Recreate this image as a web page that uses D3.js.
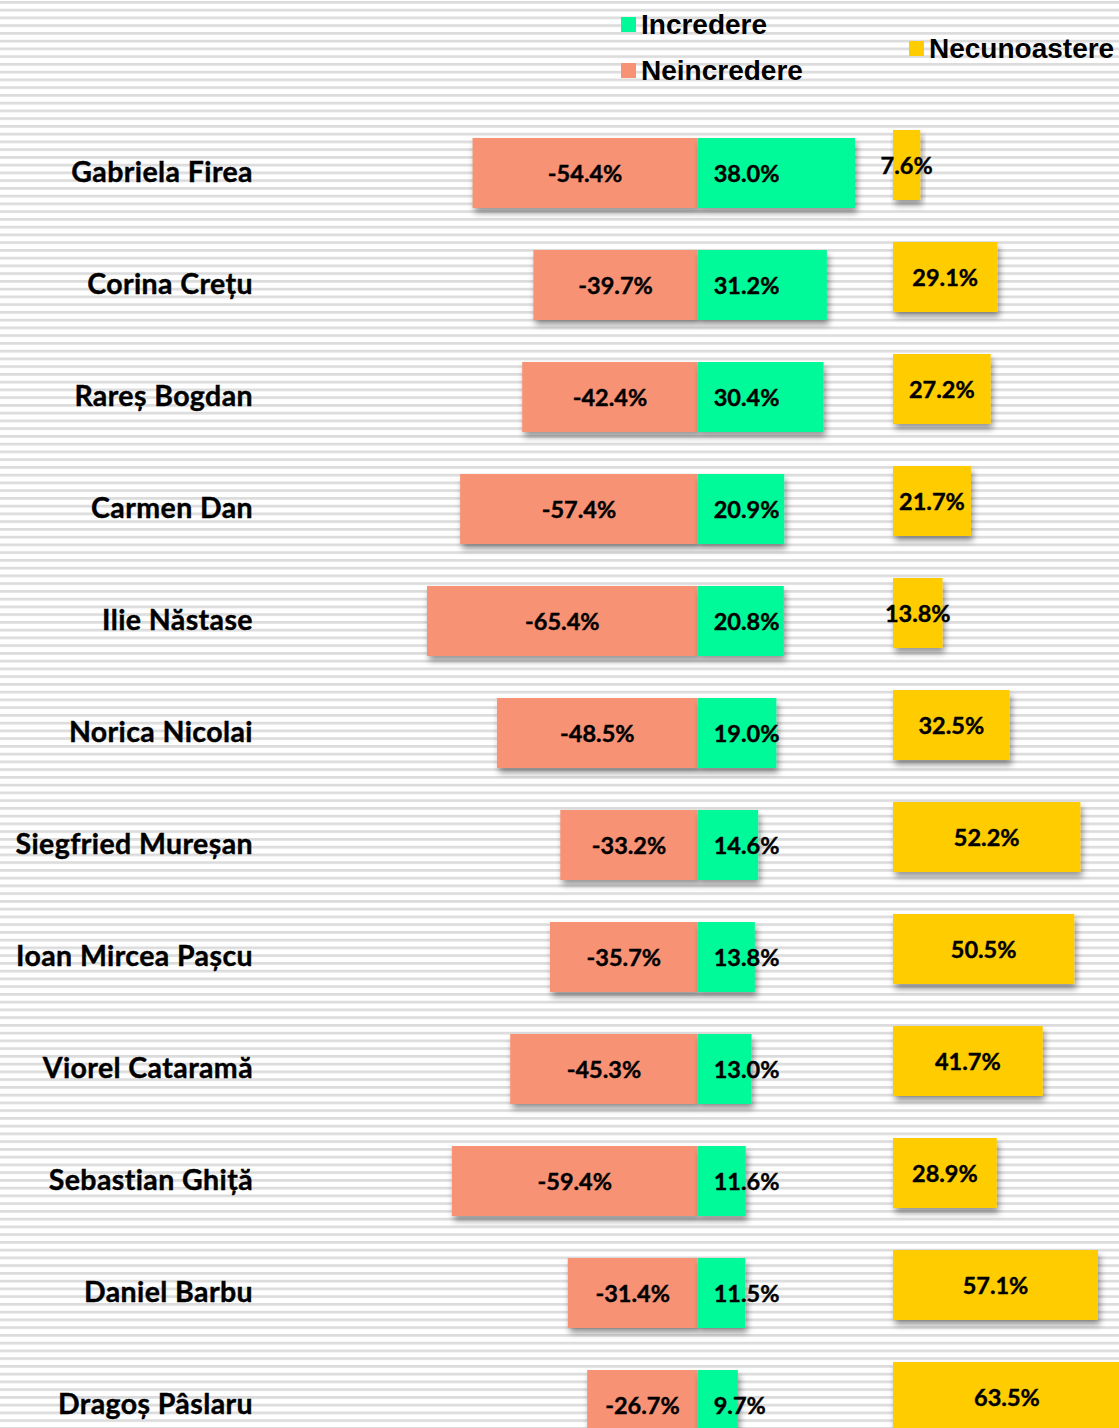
<!DOCTYPE html>
<html>
<head>
<meta charset="utf-8">
<script src="https://cdn.jsdelivr.net/npm/d3@7"></script>
<style>
  body { margin: 0; background: #fff; }
  svg { display: block; }
</style>
</head>
<body>
<div id="chart"></div>
<script>
// data
var names = ['Gabriela Firea', 'Corina Crețu', 'Rareș Bogdan', 'Carmen Dan', 'Ilie Năstase',
    'Norica Nicolai', 'Siegfried Mureșan', 'Ioan Mircea Pașcu', 'Viorel Cataramă',
    'Sebastian Ghiță', 'Daniel Barbu', 'Dragoș Pâslaru'];
var incredere = [38.0, 31.2, 30.4, 20.9, 20.8, 19.0, 14.6, 13.8, 13.0, 11.6, 11.5, 9.7];
var neincredere = [-54.4, -39.7, -42.4, -57.4, -65.4, -48.5, -33.2, -35.7, -45.3, -59.4, -31.4, -26.7];
var necunoastere = [7.6, 29.1, 27.2, 21.7, 13.8, 32.5, 52.2, 50.5, 41.7, 28.9, 57.1, 63.5];
var legendLabels = ['Incredere', 'Neincredere', 'Necunoastere'];

var colors = { inc: '#00fa9a', neinc: '#f79274', necun: '#ffcc00' };

var width = 1119, height = 1428;

var svg = d3.select('#chart').append('svg')
    .attr('width', width)
    .attr('height', height);

var defs = svg.append('defs');

// striped background
var pat = defs.append('pattern')
    .attr('id', 'stripes')
    .attr('patternUnits', 'userSpaceOnUse')
    .attr('width', 10)
    .attr('height', 7.75)
    .attr('y', 1);
pat.append('rect').attr('width', 10).attr('height', 7.75).attr('fill', '#fff');
pat.append('rect').attr('width', 10).attr('height', 2.7).attr('fill', '#dcdcdc');

var shadow = defs.append('filter')
    .attr('id', 'shadow')
    .attr('x', '-10%').attr('y', '-10%')
    .attr('width', '130%').attr('height', '140%');
shadow.append('feDropShadow')
    .attr('dx', 2).attr('dy', 5)
    .attr('stdDeviation', 3)
    .attr('flood-color', '#000')
    .attr('flood-opacity', 0.4);

svg.append('rect')
    .attr('width', width)
    .attr('height', height)
    .attr('fill', 'url(#stripes)');

var y = d3.scaleBand()
    .domain(names)
    .range([117, 117 + 112 * 12])
    .paddingInner(0.375)
    .paddingOuter(0.1875);

var x = d3.scaleLinear()
    .domain([-65.4, 38.0])
    .range([427, 855]);

var x2 = d3.scaleLinear()
    .domain([0, 57.1])
    .range([893, 1098]);

var rows = svg.selectAll('.row')
    .data(names)
    .enter()
    .append('g')
    .attr('class', 'row');

// neincredere
rows.append('rect')
    .attr('x', function(d, i) { return x(neincredere[i]); })
    .attr('y', function(d) { return y(d); })
    .attr('width', function(d, i) { return x(0) - x(neincredere[i]); })
    .attr('height', y.bandwidth())
    .attr('fill', colors.neinc)
    .attr('filter', 'url(#shadow)');

// incredere
rows.append('rect')
    .attr('x', x(0))
    .attr('y', function(d) { return y(d); })
    .attr('width', function(d, i) { return x(incredere[i]) - x(0); })
    .attr('height', y.bandwidth())
    .attr('fill', colors.inc)
    .attr('filter', 'url(#shadow)');

// necunoastere
rows.append('rect')
    .attr('x', x2(0))
    .attr('y', function(d) { return y(d) - 8; })
    .attr('width', function(d, i) { return x2(necunoastere[i]) - x2(0); })
    .attr('height', y.bandwidth())
    .attr('fill', colors.necun)
    .attr('filter', 'url(#shadow)');

var labelFont = 'Lato, "Open Sans", sans-serif';

rows.append('text')
    .attr('x', 253)
    .attr('y', function(d) { return y(d) + y.bandwidth() / 2 - 1; })
    .attr('dy', '0.35em')
    .attr('text-anchor', 'end')
    .style('font-family', labelFont)
    .style('font-weight', 'bold')
    .style('font-size', '28.5px')
    .style('letter-spacing', '0.4px')
    .style('stroke', '#000')
    .style('stroke-width', 0.4)
    .text(function(d) { return d; });

function valueText(sel) {
    sel.style('font-family', labelFont)
        .style('font-weight', 'bold')
        .style('font-size', '23.5px')
        .style('stroke', '#000')
        .style('stroke-width', 0.4)
        .attr('dy', '0.35em');
}

rows.append('text')
    .attr('x', function(d, i) { return (x(neincredere[i]) + x(0)) / 2; })
    .attr('y', function(d) { return y(d) + y.bandwidth() / 2 + 1; })
    .attr('text-anchor', 'middle')
    .call(valueText)
    .text(function(d, i) { return neincredere[i].toFixed(1) + '%'; });

rows.append('text')
    .attr('x', x(0) + 16)
    .attr('y', function(d) { return y(d) + y.bandwidth() / 2 + 1; })
    .call(valueText)
    .text(function(d, i) { return incredere[i].toFixed(1) + '%'; });

rows.append('text')
    .attr('x', function(d, i) { return (x2(0) + x2(necunoastere[i])) / 2; })
    .attr('y', function(d) { return y(d) + y.bandwidth() / 2 - 7; })
    .attr('text-anchor', 'middle')
    .call(valueText)
    .text(function(d, i) { return necunoastere[i].toFixed(1) + '%'; });

// legend
var legendPos = [[621, 17], [621, 63], [909, 41]];
var legendColors = [colors.inc, colors.neinc, colors.necun];
var legend = svg.selectAll('.legend')
    .data(legendLabels)
    .enter()
    .append('g')
    .attr('class', 'legend')
    .attr('transform', function(d, i) { return 'translate(' + legendPos[i][0] + ',' + legendPos[i][1] + ')'; });

legend.append('rect')
    .attr('width', 15)
    .attr('height', 15)
    .attr('fill', function(d, i) { return legendColors[i]; });

legend.append('text')
    .attr('x', 20)
    .attr('y', 17)
    .style('font-family', '"Liberation Sans", Arial, sans-serif')
    .style('font-weight', 'bold')
    .style('font-size', '28px')
    .text(function(d) { return d; });
</script>
</body>
</html>
